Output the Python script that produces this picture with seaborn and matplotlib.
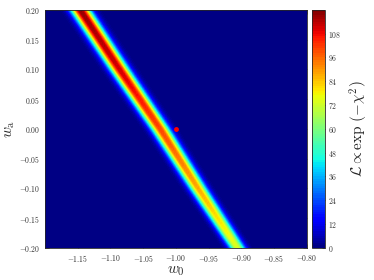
import matplotlib
matplotlib.use('Agg')
import matplotlib.pyplot as plt
import matplotlib.ticker as mticker
import numpy as np
import seaborn as sns

sns.set_style("ticks")
plt.rcParams['mathtext.fontset'] = 'cm'
plt.rcParams['font.family'] = ['DejaVu Serif']

wa_knots = [-0.20, -0.10, 0.00, 0.10, 0.20]
ridge_w0 = [-0.906, -0.966, -1.024, -1.086, -1.146]
ridge_peak = [74, 88, 101, 112, 118]
ridge_sigma = [0.0078, 0.0085, 0.0090, 0.0095, 0.0098]

fiducial_w0 = [-1.0]
fiducial_wa = [0.0]

cbar_ticks = [0, 12, 24, 36, 48, 60, 72, 84, 96, 108]
x_ticks = [-1.15, -1.10, -1.05, -1.00, -0.95, -0.90, -0.85, -0.80]
y_ticks = [-0.20, -0.15, -0.10, -0.05, 0.00, 0.05, 0.10, 0.15, 0.20]

w0 = np.linspace(-1.2, -0.8, 160)
wa = np.linspace(-0.2, 0.2, 160)
W0, WA = np.meshgrid(w0, wa)
centre = np.interp(WA, wa_knots, ridge_w0)
peak = np.interp(WA, wa_knots, ridge_peak)
sig = np.interp(WA, wa_knots, ridge_sigma)
L = peak * np.exp(-(W0 - centre) ** 2 / (2 * sig ** 2))

fig = plt.figure(figsize=(3.74, 2.80), dpi=100)
ax = fig.add_axes([0.120, 0.115, 0.700, 0.850])
cax = fig.add_axes([0.835, 0.115, 0.034, 0.850])

cs = ax.contourf(W0, WA, L, levels=np.linspace(0, 120, 101), cmap='jet')
ax.plot(fiducial_w0, fiducial_wa, 'o', color='red', markersize=3.5, markeredgewidth=0)
ax.set_xlim(-1.2, -0.8)
ax.set_ylim(-0.2, 0.2)

fmt = mticker.FuncFormatter(lambda v, p: r'$%.2f$' % v)
ax.set_xticks(x_ticks)
ax.set_yticks(y_ticks)
ax.xaxis.set_major_formatter(fmt)
ax.yaxis.set_major_formatter(fmt)
ax.tick_params(direction='in', top=True, right=True, labelsize=5.5, length=3, width=0.5,
               color='#555555', labelcolor='#333333')
for s in ax.spines.values():
    s.set_linewidth(0.6)
ax.set_xlabel(r'$w_0$', fontsize=11, labelpad=0)
ax.set_ylabel(r'$w_{\rm a}$', fontsize=11, labelpad=1)

cb = fig.colorbar(cs, cax=cax, ticks=cbar_ticks)
cb.ax.yaxis.set_major_formatter(mticker.FuncFormatter(lambda v, p: r'$%d$' % v))
cb.ax.tick_params(direction='in', labelsize=5.5, length=2, width=0.5, pad=2, labelcolor='#333333')
cb.outline.set_linewidth(0.6)
cb.set_label(r'$\mathcal{L} \propto \exp\,(-\chi^2)$', fontsize=11, labelpad=5)

fig.savefig('out.png', dpi=100)
